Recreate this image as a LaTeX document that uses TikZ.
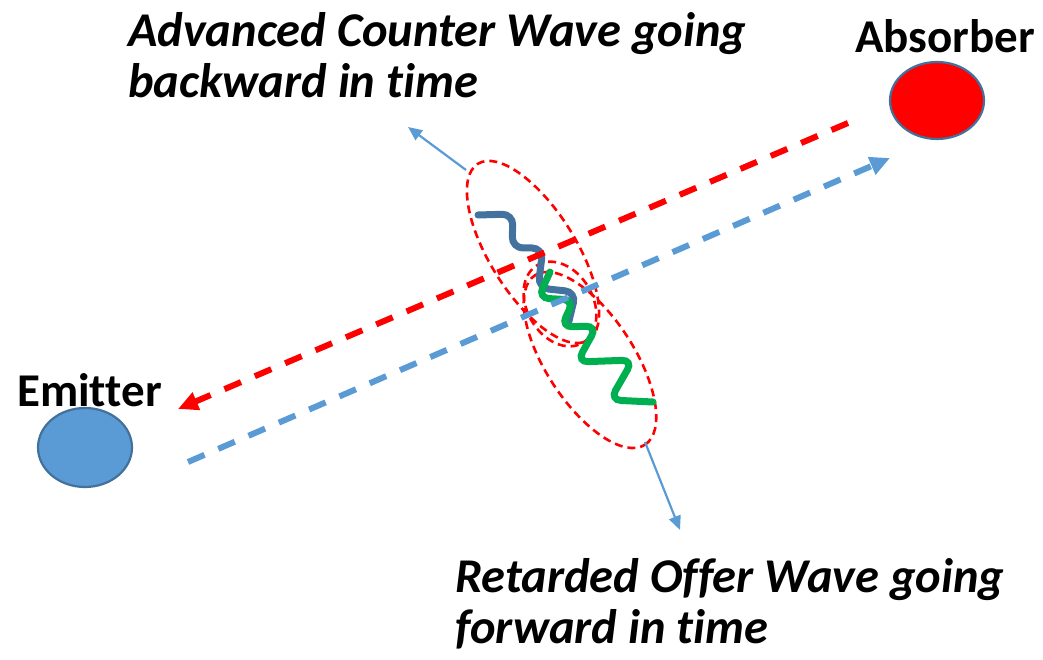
\documentclass[tikz,border=0pt]{standalone}
\usepackage{fontspec}
\setmainfont{Carlito}[Ligatures=CommonOff]
\usetikzlibrary{arrows.meta,shapes.geometric}
\definecolor{dotblue}{HTML}{5B9BD5}
\definecolor{rimblue}{HTML}{41719C}
\definecolor{wavblue}{HTML}{44729F}
\definecolor{wavgreen}{HTML}{00B050}
\definecolor{pured}{HTML}{FF0000}
\tikzset{
  x=1pt, y=1pt,
  body/.style={ellipse, draw=rimblue, line width=2.2pt, inner sep=0pt},
  lbl/.style={font=\fontsize{47}{52}\selectfont\bfseries, inner sep=0pt, anchor=base west},
  captext/.style={font=\fontsize{48.5}{51}\selectfont\bfseries\itshape, inner sep=0pt, anchor=base west, align=left},
  beam/.style={line width=6pt, dash pattern=on 18pt off 15pt},
  halo/.style={draw=pured, line width=2.6pt, dash pattern=on 8pt off 5pt},
  wave/.style={line width=7pt, rounded corners=11pt, line cap=round},
  pointer/.style={draw=dotblue, line width=2.2pt, -{Triangle[length=14pt,width=12pt]}}
}
\begin{document}
\begin{tikzpicture}
\useasboundingbox (0,0) rectangle (1043,660);
% bodies
\node[body, fill=dotblue, minimum width=94pt, minimum height=79pt] (emitter) at (85,212.5) {};
\node[body, fill=pured, minimum width=94pt, minimum height=77pt] (absorber) at (937,559.5) {};
\node[lbl] (emlbl) at (17,253) {Emitter};
\node[lbl] (ablbl) at (855,607) {Absorber};
% captions (base anchor = last line's baseline)
\node[captext] (adv) at (128,562) {Advanced Counter Wave going\\backward in time};
\node[captext] (ret) at (455,16) {Retarded Offer Wave going\\forward in time};
% dashed halos
\draw[halo, rotate around={-58:(533,408)}] (533,408) ellipse [x radius=104, y radius=43];
\draw[halo, rotate around={-57:(590,300)}] (590,300) ellipse [x radius=101, y radius=44];
\draw[halo, rotate around={-60:(560,356)}] (560,356) ellipse [x radius=45, y radius=33];
% waves
\draw[wave, draw=wavblue] (478,445) -- (513,446) -- (512,412) -- (543,412) -- (538,372) -- (576,368) -- (568,335);
\draw[wave, draw=wavgreen] (550,388) -- (538,362) -- (574,360) -- (561,333) -- (597,334) -- (577,298) -- (633,300) -- (610,260) -- (653,258);
% beams
\coordinate (rs) at (848,537);
\coordinate (re) at (178,251);
\coordinate (bs) at (188,198);
\coordinate (be) at (890,502);
\draw[beam, draw=pured, -{Triangle[length=20pt,width=18pt]}] (rs) -- (re);
\draw[beam, draw=dotblue, -{Triangle[length=20pt,width=18pt]}] (bs) -- (be);
% pointers
\coordinate (p1s) at (466,490);
\coordinate (p1e) at (408,533);
\coordinate (p2s) at (645,218);
\coordinate (p2e) at (680,130);
\draw[pointer] (p1s) -- (p1e);
\draw[pointer] (p2s) -- (p2e);
\end{tikzpicture}
\end{document}
